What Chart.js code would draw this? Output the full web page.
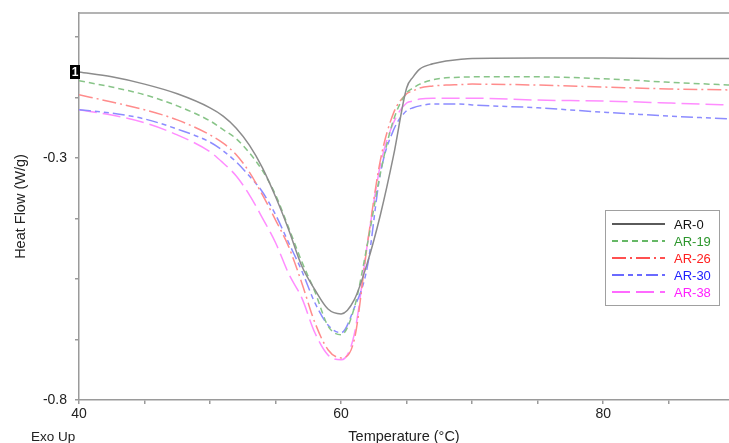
<!DOCTYPE html>
<html>
<head>
<meta charset="utf-8">
<script src="https://cdn.jsdelivr.net/npm/chart.js@4"></script>
<style>
  html, body { margin: 0; padding: 0; background: #fff; }
  #wrap { width: 729px; height: 443px; }
</style>
</head>
<body>
<div id="wrap"><canvas id="dsc" width="729" height="443"></canvas></div>
<script>
// temperature grid (°C) shared by all curves
const temps = [40, 42.5, 45, 47.5, 50, 51, 52, 53, 54, 55, 56, 57, 58, 59, 60, 61, 62, 63, 64, 65, 65.5, 66, 67, 68, 69, 70, 75, 80, 85, 89.6];

// heat flow (W/g)
const ar0  = [-0.122, -0.132, -0.147, -0.167, -0.196, -0.213, -0.238, -0.273, -0.320, -0.380, -0.448, -0.523, -0.572, -0.612, -0.622, -0.593, -0.517, -0.417, -0.295, -0.155, -0.132, -0.116, -0.105, -0.099, -0.096, -0.094, -0.093, -0.093, -0.094, -0.094];
const ar19 = [-0.140, -0.153, -0.169, -0.192, -0.223, -0.241, -0.260, -0.289, -0.326, -0.376, -0.444, -0.514, -0.576, -0.647, -0.665, -0.610, -0.479, -0.331, -0.221, -0.165, -0.155, -0.147, -0.138, -0.134, -0.133, -0.132, -0.132, -0.136, -0.143, -0.149];
const ar26 = [-0.169, -0.184, -0.200, -0.221, -0.252, -0.269, -0.293, -0.329, -0.376, -0.428, -0.483, -0.558, -0.640, -0.696, -0.713, -0.676, -0.479, -0.304, -0.207, -0.167, -0.161, -0.155, -0.151, -0.149, -0.148, -0.147, -0.149, -0.153, -0.157, -0.159];
const ar30 = [-0.200, -0.207, -0.219, -0.240, -0.267, -0.285, -0.308, -0.337, -0.370, -0.417, -0.475, -0.533, -0.599, -0.645, -0.661, -0.610, -0.525, -0.331, -0.242, -0.202, -0.196, -0.192, -0.188, -0.188, -0.188, -0.190, -0.196, -0.205, -0.213, -0.219];
const ar38 = [-0.200, -0.211, -0.227, -0.252, -0.287, -0.310, -0.337, -0.376, -0.424, -0.475, -0.539, -0.589, -0.661, -0.707, -0.717, -0.665, -0.479, -0.314, -0.227, -0.186, -0.182, -0.178, -0.176, -0.176, -0.176, -0.176, -0.180, -0.182, -0.186, -0.190];

const seriesNames = ['AR-0', 'AR-19', 'AR-26', 'AR-30', 'AR-38'];
const seriesData = [ar0, ar19, ar26, ar30, ar38];

// axis ticks
const xTicks = [40, 45, 50, 55, 60, 65, 70, 75, 80, 85];
const xLabelled = [40, 60, 80];
const yTicks = [-0.8, -0.675, -0.55, -0.425, -0.3, -0.175, -0.05];
const yLabelled = [-0.8, -0.3];

const lineColors = ['#8c8c8c', '#88c488', '#ff8c8c', '#8c8cff', '#ff8cff'];
const keyColors = ['#5a5a5a', '#66b866', '#ff5050', '#6a6aff', '#ff6aff'];
const textColors = ['#111111', '#2c962c', '#ff2020', '#2020ff', '#ff20ff'];
const dashes = [[], [6, 4], [14, 4, 2, 4], [12, 4, 5, 4, 5, 4], [18, 6]];

const FONT = "'Liberation Sans', Arial, sans-serif";
const TEXT = '#222222';
const AXIS = '#9a9a9a';

const datasets = seriesNames.map((name, i) => ({
  label: name,
  data: temps.map((t, j) => ({x: t, y: seriesData[i][j]})),
  borderColor: lineColors[i],
  borderWidth: 1.5,
  borderDash: dashes[i],
  pointRadius: 0,
  cubicInterpolationMode: 'monotone',
  fill: false,
}));

// extra drawing: top frame line, "1" marker, Exo Up, legend box
const decorations = {
  id: 'decorations',
  afterDraw: (chart) => {
    const {ctx, chartArea} = chart;
    const ys = chart.scales.y;
    ctx.save();

    ctx.strokeStyle = AXIS;
    ctx.lineWidth = 1.5;
    ctx.beginPath();
    ctx.moveTo(chartArea.left, chartArea.top);
    ctx.lineTo(chartArea.right, chartArea.top);
    ctx.stroke();

    // curve marker at the first point of AR-0
    const my = ys.getPixelForValue(ar0[0]);
    ctx.fillStyle = '#000';
    ctx.fillRect(chartArea.left - 9, my - 7, 10, 14);
    ctx.fillStyle = '#fff';
    ctx.font = 'bold 12px ' + FONT;
    ctx.textAlign = 'center';
    ctx.textBaseline = 'middle';
    ctx.fillText('1', chartArea.left - 4, my + 1);

    ctx.fillStyle = TEXT;
    ctx.font = '13.5px ' + FONT;
    ctx.textAlign = 'left';
    ctx.textBaseline = 'middle';
    ctx.fillText('Exo Up', 31, 437);

    // legend
    const bx = 605, by = 210, bw = 114, bh = 95;
    ctx.strokeStyle = '#a0a0a0';
    ctx.lineWidth = 1;
    ctx.strokeRect(bx + 0.5, by + 0.5, bw, bh);
    ctx.font = '13px ' + FONT;
    seriesNames.forEach((name, i) => {
      const ry = 224 + i * 17;
      ctx.strokeStyle = keyColors[i];
      ctx.lineWidth = 2;
      ctx.setLineDash(dashes[i]);
      ctx.beginPath();
      ctx.moveTo(612, ry);
      ctx.lineTo(665, ry);
      ctx.stroke();
      ctx.setLineDash([]);
      ctx.fillStyle = textColors[i];
      ctx.fillText(name, 674, ry + 1);
    });
    ctx.restore();
  }
};

new Chart(document.getElementById('dsc'), {
  type: 'line',
  data: {datasets: datasets},
  options: {
    responsive: false,
    animation: false,
    layout: {padding: {top: 13, right: 0, left: 0, bottom: 0}},
    plugins: {
      legend: {display: false},
      tooltip: {enabled: false},
    },
    scales: {
      x: {
        type: 'linear',
        min: 40,
        max: 89.6,
        afterBuildTicks: (scale) => { scale.ticks = xTicks.map(v => ({value: v})); },
        afterFit: (scale) => { scale.height = 43; scale.paddingRight = 0; },
        grid: {display: true, drawOnChartArea: false, drawTicks: true, tickLength: 4, color: AXIS, lineWidth: 1.5},
        border: {display: true, color: AXIS, width: 1.5},
        ticks: {
          autoSkip: false,
          maxRotation: 0,
          padding: 2,
          color: TEXT,
          font: {family: FONT, size: 14},
          callback: (v) => xLabelled.includes(v) ? String(v) : '',
        },
        title: {display: true, text: 'Temperature (°C)', color: TEXT, font: {family: FONT, size: 14.5}, padding: {top: 0, bottom: -3}},
      },
      y: {
        type: 'linear',
        min: -0.8,
        max: 0,
        afterBuildTicks: (scale) => { scale.ticks = yTicks.map(v => ({value: v})); },
        afterFit: (scale) => { scale.width = 79; scale.paddingTop = 0; scale.paddingBottom = 0; },
        grid: {display: true, drawOnChartArea: false, drawTicks: true, tickLength: 4, color: AXIS, lineWidth: 1.5},
        border: {display: true, color: AXIS, width: 1.5},
        ticks: {
          autoSkip: false,
          padding: 8,
          color: TEXT,
          font: {family: FONT, size: 14},
          callback: (v) => yLabelled.includes(v) ? v.toFixed(1) : '',
        },
        title: {display: true, text: 'Heat Flow (W/g)', color: TEXT, font: {family: FONT, size: 14.5}, padding: {top: 12, bottom: 0}},
      }
    }
  },
  plugins: [decorations],
});
</script>
</body>
</html>
